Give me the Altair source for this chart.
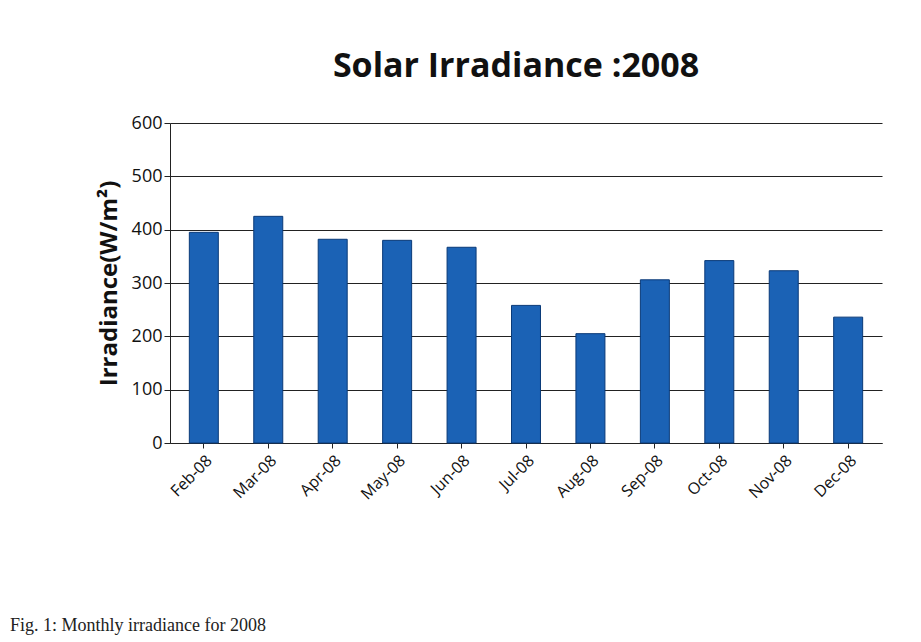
import altair as alt
import pandas as pd

months = ["Feb-08", "Mar-08", "Apr-08", "May-08", "Jun-08", "Jul-08",
          "Aug-08", "Sep-08", "Oct-08", "Nov-08", "Dec-08"]
irradiance = [395, 425, 382, 380, 367, 258, 205, 306, 342, 323, 236]
y_ticks = [0, 100, 200, 300, 400, 500, 600]

df = pd.DataFrame({"month": months, "irradiance": irradiance})

W, H = 712, 320

bars = alt.Chart(df).mark_bar(
    color="#1b62b5", stroke="#0a3a78", strokeWidth=1
).encode(
    x=alt.X("month:N", sort=months, title=None,
            scale=alt.Scale(paddingInner=0.55, paddingOuter=0.3),
            axis=alt.Axis(labelAngle=-45, labelFontSize=16, labelFont="Open Sans",
                          labelColor="#111", domainColor="#222", tickColor="#222",
                          grid=False,
                          labelPadding=4, labelAlign="right", labelBaseline="top")),
    y=alt.Y("irradiance:Q", title="Irradiance(W/m²)",
            scale=alt.Scale(domain=[0, 600]),
            axis=alt.Axis(values=y_ticks, labelFontSize=18, labelFont="Open Sans",
                          labelColor="#111", titleFontSize=24, titleFont="Open Sans",
                          titleFontWeight="bold", titleColor="#111", titlePadding=10,
                          gridColor="#222", gridWidth=1.2, domainColor="#222",
                          tickColor="#222", tickSize=6)),
)

caption = alt.Chart(pd.DataFrame({"t": ["Fig. 1: Monthly irradiance for 2008"]})).mark_text(
    align="left", baseline="bottom", font="Liberation Serif", fontSize=18, color="#222"
).encode(text="t:N", x=alt.value(-160), y=alt.value(H + 192))

chart = alt.layer(bars, caption).properties(
    width=W, height=H,
    title=alt.TitleParams("Solar Irradiance :2008", fontSize=34, font="Open Sans",
                          fontWeight="bold", color="#111", anchor="middle", offset=30,
                          dx=-10),
    padding={"left": 2, "top": 42, "right": 20, "bottom": 10},
).configure(
    background="white",
    view=alt.ViewConfig(stroke="#ffffff", strokeOpacity=0, strokeWidth=0),
    style={"cell": {"stroke": "#ffffff", "strokeOpacity": 0}},
)

chart.save("out.html", embed_options={"renderer": "svg", "actions": False})
